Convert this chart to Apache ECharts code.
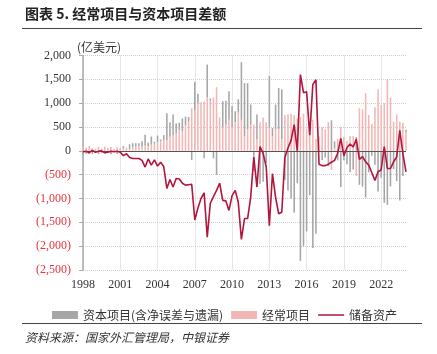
<!DOCTYPE html>
<html><head><meta charset="utf-8">
<script src="https://cdn.jsdelivr.net/npm/echarts@6/dist/echarts.min.js"></script>
<style>html,body{margin:0;padding:0;background:#fff}#c{width:437px;height:354px}</style>
</head><body><div id="c"></div>
<script>
// Quarterly categories 1998Q1 .. 2024Q1
const firstYear = 1998, lastYear = 2024, lastQuarter = 1;
const categories = [];
for (let y = firstYear; y <= lastYear; y++) {
  for (let q = 1; q <= 4; q++) {
    if (y === lastYear && q > lastQuarter) break;
    categories.push(y + 'Q' + q);
  }
}
const seriesNames = ['资本项目(含净误差与遗漏)', '经常项目', '储备资产'];

// 经常项目 (current account), 亿美元
const currentAccount = [
  90, 70, 100, 60, 40, 80, 50, 90, 60, 80, 40, 70,
  60, 50, 70, 40, 80, 90, 100, 80, 110, 90, 130, 150,
  180, 200, 230, 225, 295, 330, 365, 436, 415, 541, 612, 893,
  858, 1000, 1020, 1034, 1118, 1050, 1118, 1336, 700, 500, 550, 650,
  500, 600, 800, 650, 300, 450, 550, 550, 250, 600, 700, 600,
  470, 300, 450, 450, 250, 750, 770, 780, 750, 680, 710, 780,
  450, 600, 650, 250, 300, 500, 450, 600, -400, 50, 250, 500,
  295, 211, 310, 310, -530, 893, 872, 1209, 752, 562, 914, 1293,
  963, 1000, 1504, 1118, 612, 766, 612, 590, 390
];
// 资本项目(含净误差与遗漏), 亿美元
const capitalAccount = [
  -70, -60, -60, -70, -10, -70, -50, -50, -30, -70, -20, -60,
  -30, 50, -10, 100, 80, 70, 60, 120, 230, 80, 170, 40,
  140, 40, 100, 565, 305, 430, 215, 154, 265, 179, 98, -193,
  592, 200, -20, -154, 692, 50, -158, -506, -20, 540, 500, 600,
  440, 230, 280, 1210, 1120, 970, 420, -420, 510, -690, -650, -260,
  1100, 180, 520, 870, 1040, -610, -830, -1000, -1300, -680, -2310, -2000,
  -1690, -930, -2040, -1740, -20, -190, -140, -320, 640, 150, -200, -760,
  -195, -281, -450, -390, 290, -713, -752, -979, -452, -102, -294, -853,
  -563, -1090, -1134, -748, -382, -636, -1042, -530, 50
];
// 储备资产 (reserve assets), 亿美元
const reserveAssets = [
  -20, -10, -40, 10, -30, -10, 0, -40, -30, -10, -20, -10,
  -30, -100, -60, -140, -160, -160, -160, -200, -340, -170, -300, -190,
  -320, -240, -330, -790, -600, -760, -580, -590, -680, -720, -710, -700,
  -1450, -1200, -1000, -880, -1810, -1100, -960, -830, -680, -1040, -1050, -1250,
  -940, -830, -1080, -1860, -1420, -1420, -970, -130, -760, 90, -50, -340,
  -1570, -480, -970, -1320, -1290, -140, 60, 220, 550, 0, 1600, 1220,
  1240, 330, 1390, 1490, -280, -310, -310, -280, -240, -200, -50, 260,
  -100, 70, 140, 80, 240, -180, -120, -230, -300, -460, -620, -440,
  -400, 90, -370, -370, -230, -130, 430, -60, -440
];

const serif = '"Liberation Serif", "Noto Sans CJK SC", serif';
const cjk = '"Noto Sans CJK SC", sans-serif';
const lineColor = '#b3153c';

const chart = echarts.init(document.getElementById('c'), null, {renderer: 'canvas'});
chart.setOption({
  animation: false,
  backgroundColor: '#fff',
  grid: {left: 83, right: 31, top: 55.5, bottom: 84},
  legend: {
    data: [
      {name: seriesNames[0], icon: 'rect'},
      {name: seriesNames[1], icon: 'rect'},
      {name: seriesNames[2], icon: 'path://M0,0h0.01v0.01h-0.01z M0,3.2h26v1.6h-26z M0,8h0.01v-0.01h-0.01z'}
    ],
    symbolKeepAspect: false,
    left: 47, top: 304,
    itemWidth: 26, itemHeight: 8, itemGap: 8,
    textStyle: {fontSize: 12, color: '#333', fontFamily: cjk}
  },
  xAxis: {
    type: 'category', data: categories, boundaryGap: false,
    axisLine: {show: false, onZero: false},
    axisTick: {show: false},
    axisLabel: {interval: 11, formatter: v => v.slice(0, 4), color: '#333', fontFamily: serif, fontSize: 12, margin: 9},
    splitLine: {show: true, interval: 11, lineStyle: {color: '#cfcfcf', type: 'dotted', width: 1}}
  },
  yAxis: {
    type: 'value', min: -2500, max: 2000, interval: 500,
    axisLine: {show: true, lineStyle: {color: '#a8a8a8', width: 1.5}},
    axisTick: {show: true, length: 4, lineStyle: {color: '#a8a8a8'}},
    axisLabel: {
      margin: 12,
      formatter: v => {
        const s = Math.abs(v).toLocaleString('en-US');
        return v < 0 ? '{neg|(' + s + ')}' : '{pos|' + s + '}';
      },
      rich: {
        neg: {color: '#e8343c', fontFamily: serif, fontSize: 12},
        pos: {color: '#333', fontFamily: serif, fontSize: 12}
      }
    },
    splitLine: {show: true, lineStyle: {color: '#cfcfcf', type: 'dotted', width: 1}}
  },
  series: [
    {name: seriesNames[1], type: 'bar', stack: 'bop', data: currentAccount,
     itemStyle: {color: '#f2b7b5'}, barCategoryGap: '50%'},
    {name: seriesNames[0], type: 'bar', stack: 'bop', data: capitalAccount,
     itemStyle: {color: '#a6a6a6'}, barCategoryGap: '50%'},
    {name: seriesNames[2], type: 'line', data: reserveAssets, symbol: 'none', z: 5,
     lineStyle: {color: lineColor, width: 1.6}, itemStyle: {color: lineColor},
     markLine: {silent: true, symbol: ['none', 'none'], label: {show: false},
       lineStyle: {color: '#555', width: 1, type: 'solid'}, data: [{yAxis: 0}]}}
  ],
  graphic: [
    {type: 'text', left: 25, top: 7, style: {text: '图表 5. 经常项目与资本项目差额', font: 'bold 14px ' + cjk, fill: '#222'}},
    {type: 'line', shape: {x1: 22, y1: 28.5, x2: 422, y2: 28.5}, style: {stroke: '#444', lineWidth: 1}},
    {type: 'text', left: 77, top: 41, style: {text: '(亿美元)', font: '12px ' + cjk, fill: '#333'}},
    {type: 'line', shape: {x1: 22, y1: 323.5, x2: 422, y2: 323.5}, style: {stroke: '#444', lineWidth: 1}},
    {type: 'text', left: 25, top: 331, style: {text: '资料来源：国家外汇管理局，中银证券', font: 'italic 12px ' + cjk, fill: '#333'}}
  ]
});
</script></body></html>
